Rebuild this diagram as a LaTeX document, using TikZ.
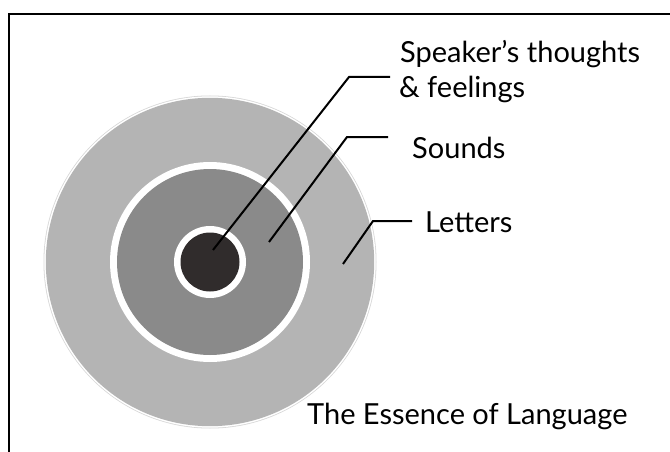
\documentclass[tikz,border=0pt]{standalone}
\usepackage{fontspec}
\setmainfont{Lato}
\definecolor{outerg}{RGB}{180,180,180}
\definecolor{midg}{RGB}{138,138,138}
\definecolor{coreg}{RGB}{48,44,44}
\definecolor{halo}{RGB}{215,215,215}
\begin{document}
\begin{tikzpicture}[x=1pt,y=-1pt,
  lbl/.style={font=\fontsize{29}{33}\selectfont, inner sep=0pt, anchor=base west},
  lead/.style={line width=2pt, black}]
\useasboundingbox (0,0) rectangle (670,452);
\begin{scope}
  \clip (0,0) rectangle (670,452);
  \draw[line width=2.5pt] (9,480) -- (9,14) -- (700,14);
\end{scope}
\coordinate (c) at (210,262);
\fill[halo] (c) circle (166.5);
\fill[white] (c) circle (165.7);
\fill[outerg] (c) circle (164.2);
\fill[white] (c) circle (100);
\fill[midg] (c) circle (93);
\fill[white] (c) circle (36);
\fill[coreg] (c) circle (29.5);
\coordinate (s0) at (213,250);
\coordinate (s1) at (349,77);
\coordinate (s2) at (390,77);
\coordinate (d0) at (269,242);
\coordinate (d1) at (347,137);
\coordinate (d2) at (388,137);
\coordinate (l0) at (343,264);
\coordinate (l1) at (373,221);
\coordinate (l2) at (412,221);
\draw[lead] (s0) -- (s1) -- (s2);
\draw[lead] (d0) -- (d1) -- (d2);
\draw[lead] (l0) -- (l1) -- (l2);
\node[lbl] (sp) at (400,63) {Speaker\symbol{39}s thoughts};
\node[lbl] (fe) at (399,98) {\& feelings};
\node[lbl] (so) at (412,158) {Sounds};
\node[lbl] (le) at (425,232) {Letters};
\node[lbl] (ti) at (307,424) {The Essence of Language};
\end{tikzpicture}
\end{document}
